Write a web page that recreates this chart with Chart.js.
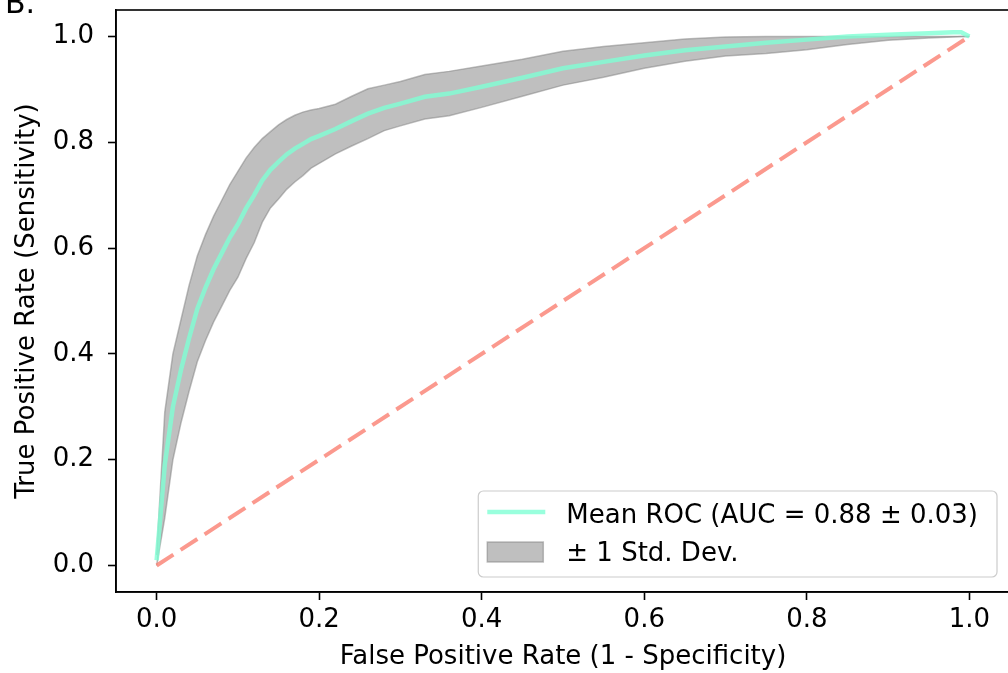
<!DOCTYPE html>
<html lang="en">
<head>
    <meta charset="UTF-8">
    <title>Mean ROC</title>
    <script src="https://cdn.jsdelivr.net/npm/chart.js"></script>
    <style>
        html, body {
            margin: 0;
            padding: 0;
            background: #ffffff;
            overflow: hidden;
        }
        .panel-label {
            position: absolute;
            left: 5px;
            top: -12px;
            font-family: 'DejaVu Sans', sans-serif;
            font-size: 30px;
            line-height: 30px;
            color: #000;
        }
        .chart-container {
            position: relative;
            width: 1012px;
            height: 673px;
        }
    </style>
</head>
<body>
    <div class="chart-container">
        <canvas id="rocChart"></canvas>
    </div>
    <div class="panel-label">B.</div>

    <script>
        // mean ROC on a common false positive rate grid
        const fprGrid = [0, 0.01, 0.02, 0.03, 0.04, 0.05, 0.06, 0.07, 0.08, 0.09, 0.10,
            0.11, 0.12, 0.13, 0.14, 0.15, 0.16, 0.17, 0.18, 0.19, 0.20,
            0.22, 0.24, 0.26, 0.28, 0.30, 0.33, 0.36, 0.40, 0.45, 0.50,
            0.55, 0.60, 0.65, 0.70, 0.75, 0.80, 0.85, 0.90, 0.95, 0.98, 0.99, 1.00];
        const meanTpr = [0.01, 0.19, 0.30, 0.37, 0.43, 0.485, 0.525, 0.56, 0.59, 0.62, 0.645,
            0.675, 0.70, 0.728, 0.748, 0.763, 0.777, 0.788, 0.797, 0.806, 0.812,
            0.825, 0.840, 0.854, 0.865, 0.873, 0.886, 0.892, 0.905, 0.922, 0.940,
            0.952, 0.964, 0.974, 0.981, 0.988, 0.994, 1.0, 1.003, 1.006, 1.008, 1.008, 1.0];
        const upperTpr = [0.02, 0.29, 0.40, 0.465, 0.53, 0.585, 0.625, 0.66, 0.69, 0.72, 0.745,
            0.77, 0.79, 0.807, 0.82, 0.833, 0.843, 0.851, 0.857, 0.861, 0.864,
            0.872, 0.887, 0.901, 0.908, 0.915, 0.928, 0.934, 0.944, 0.957, 0.972,
            0.981, 0.988, 0.995, 0.999, 1.0, 1.0, 1.0, 1.0, 1.0, 1.0, 1.0, 1.0];
        const lowerTpr = [0.0, 0.09, 0.20, 0.27, 0.33, 0.385, 0.425, 0.46, 0.49, 0.52, 0.545,
            0.58, 0.61, 0.649, 0.676, 0.693, 0.711, 0.725, 0.737, 0.751, 0.76,
            0.778, 0.793, 0.807, 0.822, 0.831, 0.844, 0.85, 0.866, 0.887, 0.908,
            0.923, 0.94, 0.953, 0.963, 0.968, 0.975, 0.985, 0.993, 0.997, 0.999, 1.0, 1.0];

        // chance diagonal
        const chanceX = [0, 1];
        const chanceY = [0, 1];

        const xTicks = [0, 0.2, 0.4, 0.6, 0.8, 1.0];
        const yTicks = [0, 0.2, 0.4, 0.6, 0.8, 1.0];
        const legendLabels = ['Mean ROC (AUC = 0.88 \u00b1 0.03)', '\u00b1 1 Std. Dev.'];

        const FONT = "'DejaVu Sans', sans-serif";
        const meanColor = 'rgba(127, 255, 212, 0.8)';
        const bandColor = 'rgba(128, 128, 128, 0.5)';
        const chanceColor = 'rgba(250, 128, 114, 0.8)';

        const toPoints = (xs, ys) => xs.map((x, i) => ({x: x, y: ys[i]}));

        // top/right spines
        const frame = {
            id: 'frame',
            afterDraw(chart) {
                const {ctx, chartArea} = chart;
                ctx.save();
                ctx.strokeStyle = '#000';
                ctx.lineWidth = 1.6;
                ctx.strokeRect(chartArea.left, chartArea.top,
                    chartArea.right - chartArea.left, chartArea.bottom - chartArea.top);
                ctx.restore();
            }
        };

        // legend in the lower right corner of the axes
        const legendBox = {
            id: 'legendBox',
            afterDraw(chart) {
                const {ctx, chartArea} = chart;
                ctx.save();
                ctx.font = '26px ' + FONT;
                const textW = Math.max(ctx.measureText(legendLabels[0]).width,
                    ctx.measureText(legendLabels[1]).width);
                const width = 88 + textW + 19;
                const height = 86;
                const right = chartArea.right - 13;
                const bottom = chartArea.bottom - 15;
                const left = right - width;
                const top = bottom - height;

                ctx.beginPath();
                ctx.roundRect(left, top, width, height, 5);
                ctx.fillStyle = 'rgba(255, 255, 255, 0.8)';
                ctx.fill();
                ctx.strokeStyle = '#cccccc';
                ctx.lineWidth = 1.2;
                ctx.stroke();

                ctx.beginPath();
                ctx.moveTo(left + 9, top + 21);
                ctx.lineTo(left + 67, top + 21);
                ctx.strokeStyle = meanColor;
                ctx.lineWidth = 4.5;
                ctx.stroke();

                ctx.fillStyle = bandColor;
                ctx.fillRect(left + 9, top + 51, 56, 20);
                ctx.strokeStyle = bandColor;
                ctx.lineWidth = 1.5;
                ctx.strokeRect(left + 9, top + 51, 56, 20);

                ctx.fillStyle = '#000';
                ctx.textAlign = 'left';
                ctx.textBaseline = 'alphabetic';
                ctx.fillText(legendLabels[0], left + 88, top + 32);
                ctx.fillText(legendLabels[1], left + 88, top + 69.5);
                ctx.restore();
            }
        };

        const ctx = document.getElementById('rocChart').getContext('2d');
        new Chart(ctx, {
            type: 'line',
            data: {
                datasets: [
                    {
                        label: legendLabels[0],
                        data: toPoints(fprGrid, meanTpr),
                        borderColor: meanColor,
                        borderWidth: 4.5,
                        pointRadius: 0,
                        fill: false,
                        tension: 0
                    },
                    {
                        label: 'Chance',
                        data: toPoints(chanceX, chanceY),
                        borderColor: chanceColor,
                        borderWidth: 4,
                        borderDash: [20, 8.6],
                        borderCapStyle: 'butt',
                        pointRadius: 0,
                        fill: false
                    },
                    {
                        label: legendLabels[1],
                        data: toPoints(fprGrid, upperTpr),
                        borderColor: bandColor,
                        backgroundColor: bandColor,
                        borderWidth: 1.5,
                        pointRadius: 0,
                        fill: '+1',
                        tension: 0
                    },
                    {
                        label: 'lower',
                        data: toPoints(fprGrid, lowerTpr),
                        borderColor: bandColor,
                        borderWidth: 1.5,
                        pointRadius: 0,
                        fill: false,
                        tension: 0
                    }
                ]
            },
            options: {
                responsive: true,
                maintainAspectRatio: false,
                animation: false,
                layout: {
                    padding: {top: 10, left: 0, right: 2, bottom: 0}
                },
                plugins: {
                    legend: {display: false},
                    tooltip: {enabled: false}
                },
                scales: {
                    x: {
                        type: 'linear',
                        min: -0.05,
                        max: 1.05,
                        afterBuildTicks: axis => { axis.ticks = xTicks.map(v => ({value: v})); },
                        afterFit: axis => {
                            axis.height = 81;
                            axis.paddingLeft = 0;
                            axis.paddingRight = 0;
                        },
                        grid: {
                            drawOnChartArea: false,
                            drawTicks: true,
                            tickLength: 8,
                            tickWidth: 1.6,
                            tickColor: '#000'
                        },
                        border: {display: true, color: '#000', width: 1.6},
                        ticks: {
                            color: '#000',
                            padding: 5,
                            maxRotation: 0,
                            font: {family: FONT, size: 26},
                            callback: v => v.toFixed(1)
                        },
                        title: {
                            display: true,
                            text: 'False Positive Rate (1 - Specificity)',
                            color: '#000',
                            font: {family: FONT, size: 26},
                            padding: {top: 0, bottom: 0}
                        }
                    },
                    y: {
                        type: 'linear',
                        min: -0.05,
                        max: 1.05,
                        afterBuildTicks: axis => { axis.ticks = yTicks.map(v => ({value: v})); },
                        afterFit: axis => {
                            axis.width = 116;
                            axis.paddingTop = 0;
                            axis.paddingBottom = 0;
                        },
                        grid: {
                            drawOnChartArea: false,
                            drawTicks: true,
                            tickLength: 8,
                            tickWidth: 1.6,
                            tickColor: '#000'
                        },
                        border: {display: true, color: '#000', width: 1.6},
                        ticks: {
                            color: '#000',
                            padding: 14,
                            font: {family: FONT, size: 26},
                            callback: v => v.toFixed(1)
                        },
                        title: {
                            display: true,
                            text: 'True Positive Rate (Sensitivity)',
                            color: '#000',
                            font: {family: FONT, size: 26},
                            padding: {top: 12, bottom: 0}
                        }
                    }
                }
            },
            plugins: [frame, legendBox]
        });
    </script>
</body>
</html>
